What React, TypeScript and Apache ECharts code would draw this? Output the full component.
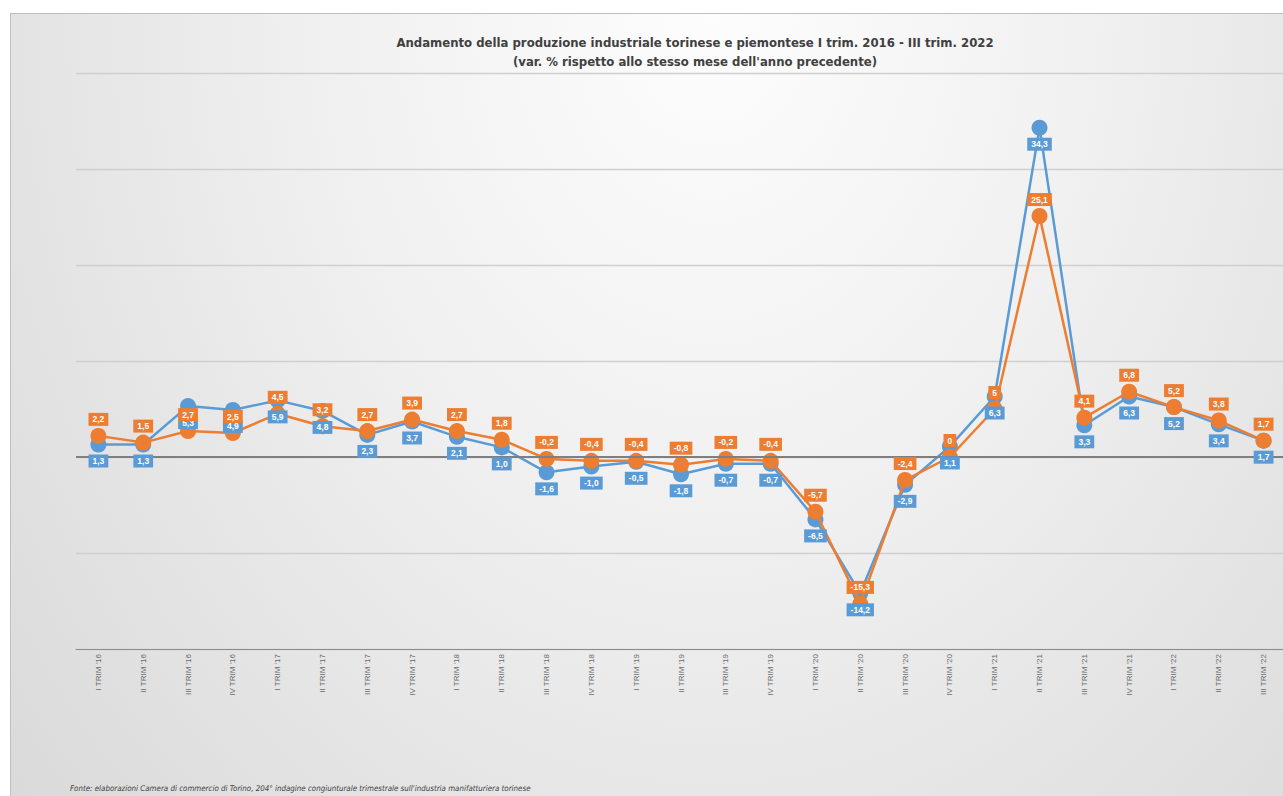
import React, { useEffect, useRef } from "react";
import * as echarts from "echarts";

const categories = [
  "I TRIM '16", "II TRIM '16", "III TRIM '16", "IV TRIM '16",
  "I TRIM '17", "II TRIM '17", "III TRIM '17", "IV TRIM '17",
  "I TRIM '18", "II TRIM '18", "III TRIM '18", "IV TRIM '18",
  "I TRIM '19", "II TRIM '19", "III TRIM '19", "IV TRIM '19",
  "I TRIM '20", "II TRIM '20", "III TRIM '20", "IV TRIM '20",
  "I TRIM '21", "II TRIM '21", "III TRIM '21", "IV TRIM '21",
  "I TRIM '22", "II TRIM '22", "III TRIM '22",
];

const torino = [
  1.3, 1.3, 5.3, 4.9, 5.9, 4.8, 2.3, 3.7, 2.1, 1.0, -1.6, -1.0, -0.5, -1.8,
  -0.7, -0.7, -6.5, -14.2, -2.9, 1.1, 6.3, 34.3, 3.3, 6.3, 5.2, 3.4, 1.7,
];

const piemonte = [
  2.2, 1.5, 2.7, 2.5, 4.5, 3.2, 2.7, 3.9, 2.7, 1.8, -0.2, -0.4, -0.4, -0.8,
  -0.2, -0.4, -5.7, -15.3, -2.4, 0, 5, 25.1, 4.1, 6.8, 5.2, 3.8, 1.7,
];

const titleLines = [
  "Andamento della produzione industriale torinese e piemontese I trim. 2016 - III trim. 2022",
  "(var. % rispetto allo stesso mese dell'anno precedente)",
];
const sourceNote =
  "Fonte: elaborazioni Camera di commercio di Torino, 204° indagine congiunturale trimestrale sull'industria manifatturiera torinese";

const BLUE = "#5B9BD5";
const ORANGE = "#ED7D31";
const NARROW = "'DejaVu Sans Condensed', 'Liberation Sans', sans-serif";
const ARIAL = "'Liberation Sans', Arial, sans-serif";

const fmtFixed = (v: number) => v.toFixed(1).replace(".", ",");
const fmtLoose = (v: number) =>
  Number.isInteger(v) ? String(v) : v.toFixed(1).replace(".", ",");

export default function App() {
  const ref = useRef<HTMLDivElement>(null);

  useEffect(() => {
    if (!ref.current) return;
    const chart = echarts.init(ref.current, undefined, { renderer: "svg" });

    const labelBase = {
      show: true,
      color: "#ffffff",
      fontWeight: "bold" as const,
      fontSize: 8.5,
      fontFamily: ARIAL,
      padding: [2, 4, 2, 4],
      distance: 2,
    };

    const SYM = 16;

    const labelSeries = (name: string, data: number[], color: string, pos: string, fmt: (v: number) => string, z: number) => ({
      name,
      type: "line",
      data,
      symbol: "circle",
      symbolSize: SYM,
      silent: true,
      itemStyle: { color: "rgba(0,0,0,0)", borderWidth: 0 },
      lineStyle: { width: 0, color: "rgba(0,0,0,0)" },
      label: {
        ...labelBase,
        position: pos,
        backgroundColor: color,
        formatter: (p: any) => fmt(p.value),
      },
      z,
    });

    chart.setOption({
      animation: false,
      title: [
        {
          text: titleLines.join("\n"),
          left: 695,
          top: 33,
          padding: 0,
          textAlign: "center",
          textStyle: {
            fontFamily: NARROW,
            fontSize: 13,
            fontWeight: "bold",
            color: "#404040",
            lineHeight: 19,
          },
        },
        {
          text: sourceNote,
          left: 70,
          top: 784,
          padding: 0,
          textStyle: {
            fontFamily: NARROW,
            fontSize: 7.9,
            fontStyle: "italic",
            fontWeight: "normal",
            color: "#404040",
          },
        },
      ],
      grid: { left: 76, top: 73, width: 1210, height: 576 },
      xAxis: {
        type: "category",
        data: categories,
        boundaryGap: true,
        axisLine: { onZero: false, lineStyle: { color: "#8c8c8c", width: 1 } },
        axisTick: { show: false },
        axisLabel: {
          rotate: 90,
          interval: 0,
          fontSize: 8,
          fontFamily: ARIAL,
          color: "#6a6a6a",
          margin: 5,
        },
      },
      yAxis: {
        type: "value",
        min: -20,
        max: 40,
        interval: 10,
        axisLabel: { show: false },
        axisLine: { show: false },
        axisTick: { show: false },
        splitLine: { lineStyle: { color: "#cfcfcf", width: 1.3 } },
      },
      series: [
        {
          name: "Torino",
          type: "line",
          data: torino,
          symbol: "circle",
          symbolSize: SYM,
          itemStyle: { color: BLUE },
          lineStyle: { color: BLUE, width: 2.5 },
          label: { show: false },
          markLine: {
            silent: true,
            symbol: "none",
            label: { show: false },
            lineStyle: { color: "#7f7f7f", width: 1.8, type: "solid" },
            data: [{ yAxis: 0 }],
          },
          z: 2,
        },
        {
          name: "Piemonte",
          type: "line",
          data: piemonte,
          symbol: "circle",
          symbolSize: SYM,
          itemStyle: { color: ORANGE },
          lineStyle: { color: ORANGE, width: 2.5 },
          label: { show: false },
          z: 3,
        },
        labelSeries("Torino etichette", torino, BLUE, "bottom", fmtFixed, 10),
        labelSeries("Piemonte etichette", piemonte, ORANGE, "top", fmtLoose, 11),
      ],
    });

    return () => chart.dispose();
  }, []);

  return (
    <div
      style={{
        position: "fixed",
        left: 0,
        top: 0,
        width: 1283,
        height: 796,
        overflow: "hidden",
        background: "#ffffff",
      }}
    >
      <div
        style={{
          position: "absolute",
          left: 10,
          top: 13,
          width: 1400,
          height: 900,
          border: "1px solid #bfbfbf",
          background:
            "radial-gradient(ellipse farthest-corner at 50% 0%, #fdfdfd 0%, #f0f0f0 40%, #d7d7d7 100%)",
        }}
      />
      <div
        ref={ref}
        style={{ position: "absolute", left: 0, top: 0, width: 1300, height: 796 }}
      />
    </div>
  );
}
